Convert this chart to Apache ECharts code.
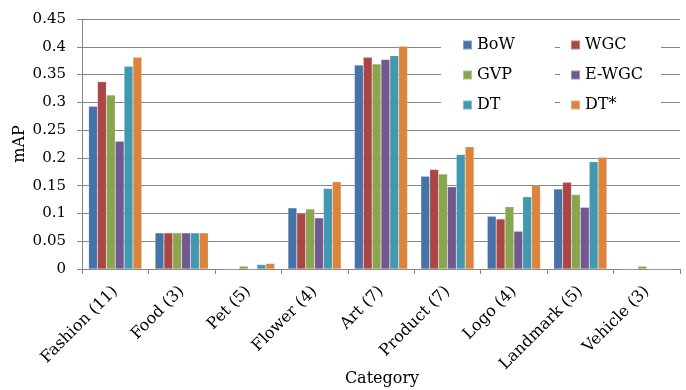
<!DOCTYPE html>
<html>
<head>
<meta charset="utf-8">
<script src="https://cdn.jsdelivr.net/npm/echarts@6/dist/echarts.min.js"></script>
<style>
  html, body { margin: 0; padding: 0; background: #fff; }
  #chart { width: 686px; height: 390px; }
</style>
</head>
<body>
<div id="chart"></div>
<script>
// mAP per query category for each retrieval method
const categories = ['Fashion (11)', 'Food (3)', 'Pet (5)', 'Flower (4)', 'Art (7)', 'Product (7)', 'Logo (4)', 'Landmark (5)', 'Vehicle (3)'];
const bow  = [0.293, 0.065, 0.000, 0.110, 0.367, 0.167, 0.095, 0.144, 0.000];
const wgc  = [0.337, 0.065, 0.000, 0.100, 0.381, 0.179, 0.090, 0.156, 0.000];
const gvp  = [0.313, 0.065, 0.005, 0.108, 0.369, 0.171, 0.112, 0.134, 0.005];
const ewgc = [0.230, 0.065, 0.000, 0.092, 0.377, 0.148, 0.068, 0.111, 0.000];
const dt   = [0.365, 0.065, 0.008, 0.145, 0.384, 0.206, 0.130, 0.193, 0.000];
const dtStar = [0.381, 0.065, 0.010, 0.157, 0.401, 0.220, 0.150, 0.201, 0.000];
const yTicks = { min: 0, max: 0.45, step: 0.05 };
const xTitle = 'Category';
const yTitle = 'mAP';

const FONT = '"DejaVu Serif", serif';
const AXIS_GRAY = '#868686';

const seriesDefs = [
  { name: 'BoW', data: bow, color: '#4572A7' },
  { name: 'WGC', data: wgc, color: '#AA4643' },
  { name: 'GVP', data: gvp, color: '#89A54E' },
  { name: 'E-WGC', data: ewgc, color: '#71588F' },
  { name: 'DT', data: dt, color: '#4198AF' },
  { name: 'DT*', data: dtStar, color: '#DB843D' }
];

const legendCommon = {
  orient: 'vertical',
  top: 30,
  backgroundColor: '#fff',
  itemWidth: 9,
  itemHeight: 9,
  itemGap: 12,
  icon: 'rect',
  textStyle: { fontFamily: FONT, fontSize: 16, color: '#000', lineHeight: 18 },
  z: 5
};

const chart = echarts.init(document.getElementById('chart'), null, { renderer: 'canvas' });
chart.setOption({
  animation: false,
  backgroundColor: '#fff',
  grid: { left: 82, right: 6, top: 19, bottom: 121, containLabel: false, outerBoundsMode: 'none' },
  legend: [
    Object.assign({}, legendCommon, {
      left: 441,
      padding: [6, 40, 6, 21],
      data: ['BoW', 'GVP', 'DT']
    }),
    Object.assign({}, legendCommon, {
      left: 560,
      padding: [6, 18, 6, 10],
      data: ['WGC', 'E-WGC', 'DT*']
    })
  ],
  // axis titles
  graphic: [
    {
      type: 'text',
      x: 382, y: 379,
      style: { text: xTitle, fontFamily: FONT, fontSize: 16, fill: '#000', align: 'center', verticalAlign: 'middle' }
    },
    {
      type: 'text',
      x: 20, y: 144,
      rotation: Math.PI / 2,
      style: { text: yTitle, fontFamily: FONT, fontSize: 16, fill: '#000', align: 'center', verticalAlign: 'middle' }
    }
  ],
  xAxis: {
    type: 'category',
    data: categories,
    axisLine: { lineStyle: { color: AXIS_GRAY, width: 1 } },
    axisTick: { show: true, length: 5, lineStyle: { color: AXIS_GRAY } },
    axisLabel: {
      rotate: 45,
      margin: 20,
      fontFamily: FONT,
      fontSize: 16,
      color: '#000',
      interval: 0
    }
  },
  yAxis: {
    type: 'value',
    min: yTicks.min,
    max: yTicks.max,
    interval: yTicks.step,
    axisLine: { show: true, lineStyle: { color: AXIS_GRAY, width: 1 } },
    axisTick: { show: true, length: 5, lineStyle: { color: AXIS_GRAY } },
    splitLine: { show: true, lineStyle: { color: AXIS_GRAY, width: 1 } },
    axisLabel: {
      margin: 16,
      fontFamily: FONT,
      fontSize: 15,
      color: '#000',
      formatter: v => String(Math.round(v * 100) / 100)
    }
  },
  series: seriesDefs.map(s => ({
    name: s.name,
    type: 'bar',
    data: s.data,
    barGap: '0%',
    barCategoryGap: '20%',
    itemStyle: { color: s.color, borderColor: 'rgba(255,255,255,0.35)', borderWidth: 0.5 }
  }))
});
</script>
</body>
</html>
